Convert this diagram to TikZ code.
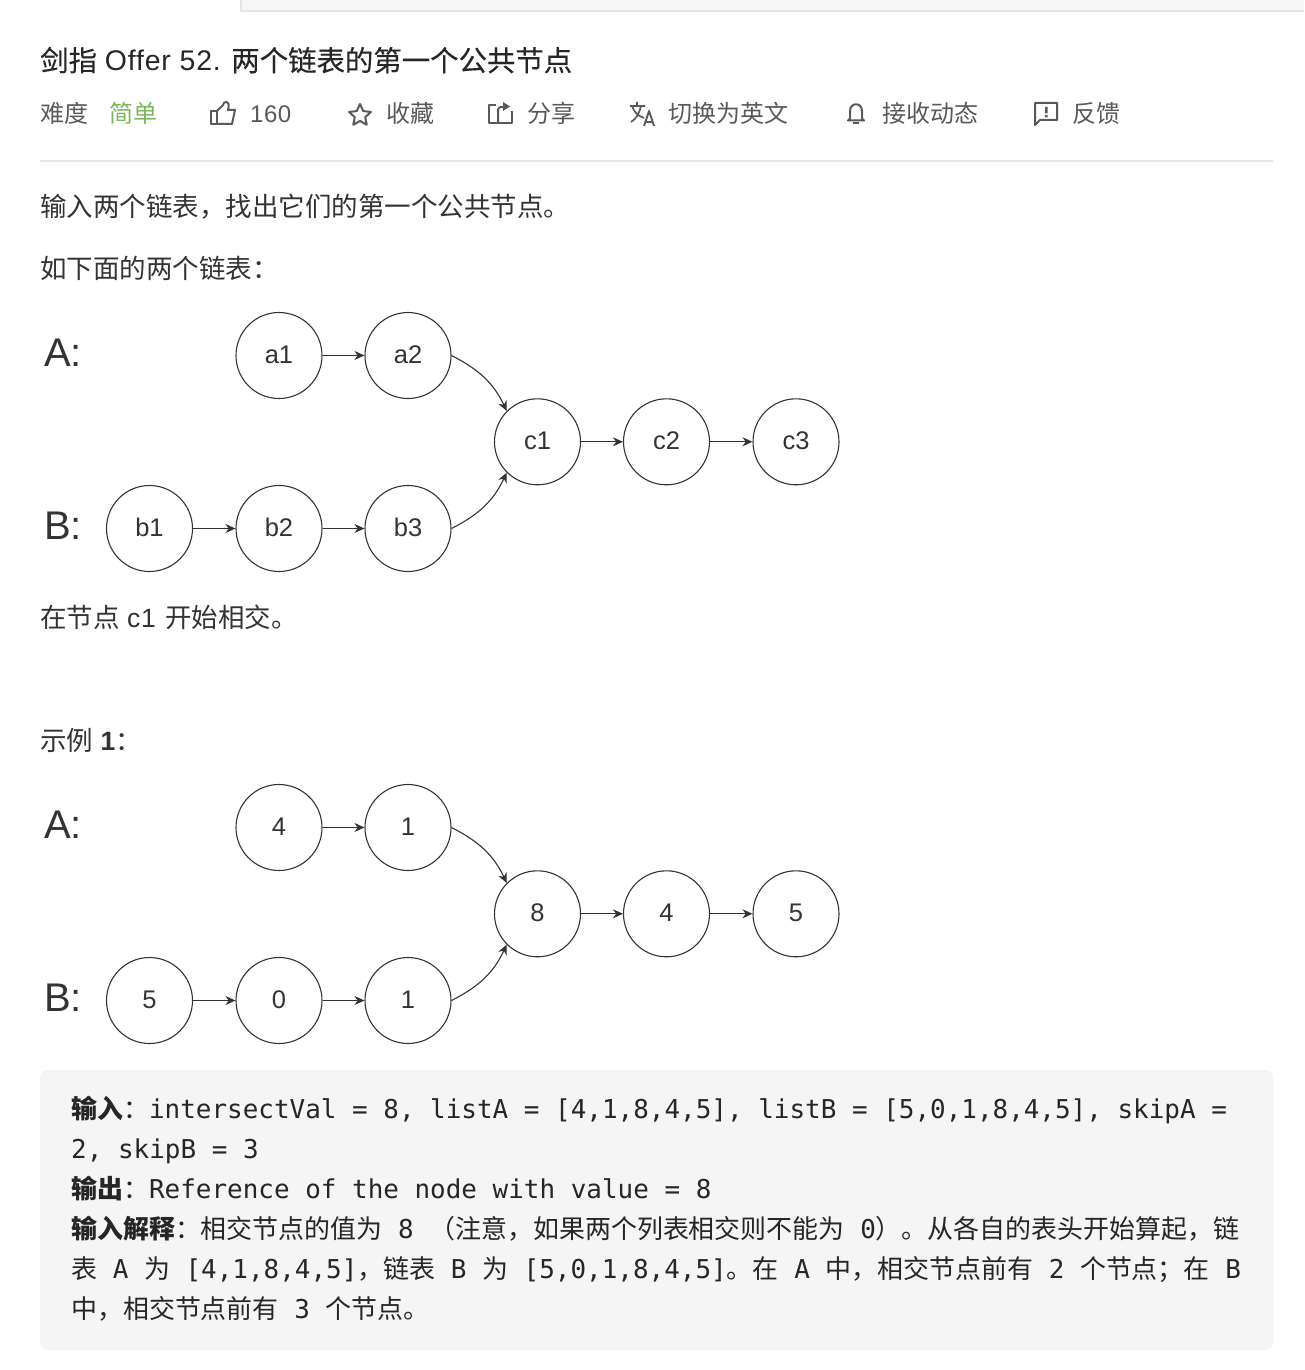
\documentclass[tikz,border=0pt]{standalone}
\usepackage{fontspec}
\setmainfont{Liberation Sans}
\setmonofont{DejaVu Sans Mono}
\newfontfamily\cjk{Noto Sans CJK SC}
\newfontfamily\cjktitle[FakeBold=0.25]{Noto Sans CJK SC}
\usetikzlibrary{arrows.meta,shapes.geometric}
\definecolor{lctitle}{HTML}{262626}
\definecolor{lcmeta}{HTML}{595959}
\definecolor{lcbody}{HTML}{333333}
\definecolor{lcgreen}{HTML}{7CB65A}
\definecolor{lcrule}{HTML}{E6E6E6}
\definecolor{lcpanel}{HTML}{F5F5F5}
\newcommand{\zh}[1]{{\cjk #1}}
\newcommand{\zhb}[1]{{\cjk\bfseries #1}}
\newcommand{\zht}[1]{{\cjktitle #1}}
\newcommand{\lat}[2]{{\addfontfeature{LetterSpace=#1}#2}}
\newcommand{\fs}[1]{\fontsize{#1}{#1}\selectfont}

\begin{document}
\begin{tikzpicture}[x=1pt,y=-1pt,
  lnode/.style={draw=lcbody,circle,line width=1.1pt,minimum size=86pt,inner sep=0pt,font=\fs{25.5},text=lcbody,text height=18.5pt,text depth=3pt},
  lname/.style={anchor=base west,inner sep=0pt,font=\fs{40},text=lcbody},
  arr/.style={-{Stealth[length=10pt,width=9pt]},line width=1.1pt,lcbody},
  meta/.style={anchor=base west,inner sep=0pt,font=\fs{24},text=lcmeta},
  body/.style={anchor=base west,inner sep=0pt,font=\fs{26.5},text=lcbody},
  code/.style={anchor=base west,inner sep=0pt,font=\fs{25.95}\ttfamily,text=lctitle},
  icon/.style={draw=lcmeta,line width=2pt,line join=round,fill=none}
]
\useasboundingbox (0,0) rectangle (1304,1370);

% page furniture
\fill[lcrule] (240,0) rectangle (1304,12);
\fill[black!3.5] (242,0) rectangle (1304,10);
\draw[lcrule,line width=2pt] (40,160.5) -- (1273,160.5);
\fill[lcpanel,rounded corners=7pt] (40,1070) rectangle (1273,1350);

% title and toolbar
\node[anchor=base west,inner sep=0pt,font=\fs{28.4},text=lctitle] (title) at (40,71) {\zht{剑指} \lat{3}{Offer 52.} \zht{两个链表的第一个公共节点}};
\node[meta] (level) at (40,122.7) {\zh{难度}};
\node[meta,text=lcgreen] (easy) at (109,122.7) {\zh{简单}};
\node[meta] (likes) at (250,122.5) {\lat{2}{160}};
\node[meta] (fav) at (386,122.7) {\zh{收藏}};
\node[meta] (share) at (527,122.7) {\zh{分享}};
\node[meta] (lang) at (668,122.7) {\zh{切换为英文}};
\node[meta] (sub) at (882,122.7) {\zh{接收动态}};
\node[meta] (report) at (1072,122.7) {\zh{反馈}};

% toolbar icons
\draw[icon] (211,111) rectangle (217,124);
\draw[icon] (217,111) -- (223,105) .. controls (224,103) and (224,102) .. (226,102) .. controls (229,102) and (229,106) .. (228,110) -- (235,110) -- (232,124) -- (217,124);
\node[icon,star,star points=5,star point ratio=2.1,minimum size=23pt,inner sep=0pt] (staricon) at (360,115.5) {};
\draw[icon] (496,105) -- (489,105) -- (489,123.5) -- (512,123.5) -- (512,111);
\draw[icon] (498,123) -- (498,110) .. controls (498,108) and (499,107) .. (503,107);
\fill[lcmeta] (510,106.5) -- (503,102) -- (503,111) -- cycle;
\draw[icon,line width=1.7pt] (630,106) -- (645,106) (637,102) -- (637,106) (641,106) .. controls (639,114) and (636,119) .. (631,122) (632,106) .. controls (634,112) and (638,116) .. (644,118);
\draw[icon,line width=1.9pt] (644,126) -- (649,111) -- (654,126) (646,122) -- (652,122);
\draw[icon] (848,120.5) -- (850,118.5) -- (850,111) .. controls (850,102) and (862,102) .. (862,111) -- (862,118.5) -- (864,120.5) -- cycle;
\fill[lcmeta] (853,122.5) rectangle (859,124.5);
\draw[icon] (1035,103) -- (1057,103) -- (1057,120) -- (1040,120) -- (1035,125) -- cycle;
\fill[lcmeta] (1045,107) rectangle (1047.5,113.5) (1045,115) rectangle (1047.5,117.5);

% text above the first figure
\node[body] (intro) at (40,216) {\zh{输入两个链表，找出它们的第一个公共节点。}};
\node[body] (asbelow) at (40,278) {\zh{如下面的两个链表：}};

\node[lname] (la) at (44,366) {A:};
\node[lname] (lb) at (44,539) {B:};
\node[lnode] (a1) at (279,355.5) {a1};
\node[lnode] (a2) at (408,355.5) {a2};
\node[lnode] (c1) at (537.5,441.8) {c1};
\node[lnode] (c2) at (666.5,441.8) {c2};
\node[lnode] (c3) at (796,441.8) {c3};
\node[lnode] (b1) at (149.5,528.5) {b1};
\node[lnode] (b2) at (279,528.5) {b2};
\node[lnode] (b3) at (408,528.5) {b3};

\draw[arr] (a1) -- (a2);
\draw[arr] (a2.east) to[out=-27,in=115] (c1.135);
\draw[arr] (c1) -- (c2);
\draw[arr] (c2) -- (c3);
\draw[arr] (b1) -- (b2);
\draw[arr] (b2) -- (b3);
\draw[arr] (b3.east) to[out=27,in=-115] (c1.-135);

\node[body] (meet) at (40,627) {\zh{在节点} \lat{3}{c1}\hspace{2pt} \zh{开始相交。}};
\node[body] (ex) at (40,750) {\zh{示例} \textbf{1}\zh{：}};

% second figure
\node[lname] (la2) at (44,838) {A:};
\node[lname] (lb2) at (44,1011) {B:};
\node[lnode] (n4) at (279,827.5) {4};
\node[lnode] (n1) at (408,827.5) {1};
\node[lnode] (m8) at (537.5,913.8) {8};
\node[lnode] (m4) at (666.5,913.8) {4};
\node[lnode] (m5) at (796,913.8) {5};
\node[lnode] (k5) at (149.5,1000.5) {5};
\node[lnode] (k0) at (279,1000.5) {0};
\node[lnode] (k1) at (408,1000.5) {1};

\draw[arr] (n4) -- (n1);
\draw[arr] (n1.east) to[out=-27,in=115] (m8.135);
\draw[arr] (m8) -- (m4);
\draw[arr] (m4) -- (m5);
\draw[arr] (k5) -- (k0);
\draw[arr] (k0) -- (k1);
\draw[arr] (k1.east) to[out=27,in=-115] (m8.-135);

% example block
\node[code] (l1) at (71,1118) {\zhb{输入}\zh{：}intersectVal = 8, listA = [4,1,8,4,5], listB = [5,0,1,8,4,5], skipA =};
\node[code] (l2) at (71,1158) {2, skipB = 3};
\node[code] (l3) at (71,1198) {\zhb{输出}\zh{：}Reference of the node with value = 8};
\node[code] (l4) at (71,1238) {\zhb{输入解释}\zh{：相交节点的值为} 8 \zh{（注意，如果两个列表相交则不能为} 0\zh{）。从各自的表头开始算起，链}};
\node[code] (l5) at (71,1278) {\zh{表} A \zh{为} [4,1,8,4,5]\zh{，链表} B \zh{为} [5,0,1,8,4,5]\zh{。在} A \zh{中，相交节点前有} 2 \zh{个节点；在} B};
\node[code] (l6) at (71,1318) {\zh{中，相交节点前有} 3 \zh{个节点。}};
\end{tikzpicture}
\end{document}
